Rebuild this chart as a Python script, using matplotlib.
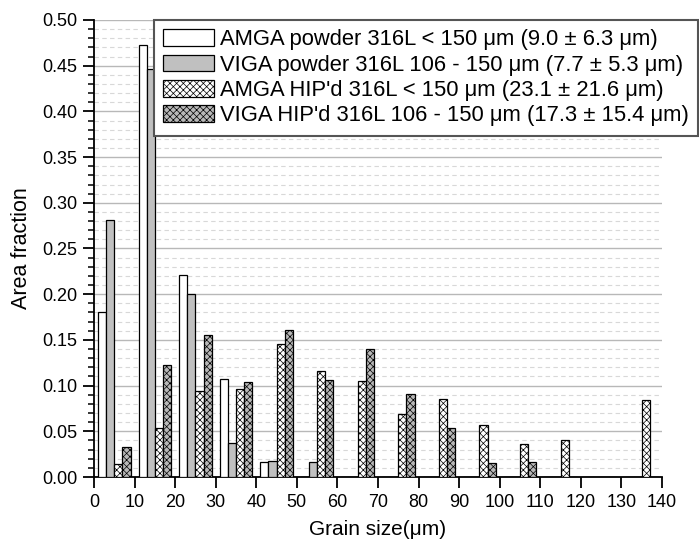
import matplotlib
matplotlib.use("Agg")
import matplotlib.pyplot as plt
import numpy as np
from matplotlib.ticker import MultipleLocator

plt.rcParams['font.family'] = ['Liberation Sans', 'DejaVu Sans']
plt.rcParams['hatch.linewidth'] = 0.5

bins = [0, 10, 20, 30, 40, 50, 60, 70, 80, 90, 100, 110, 120, 130]
amga_powder = [0.180, 0.473, 0.221, 0.107, 0.016, 0, 0, 0, 0, 0, 0, 0, 0, 0]
viga_powder = [0.281, 0.446, 0.200, 0.037, 0.017, 0.016, 0, 0, 0, 0, 0, 0, 0, 0]
amga_hip = [0.014, 0.054, 0.094, 0.096, 0.145, 0.116, 0.105, 0.069, 0.085, 0.057, 0.036, 0.040, 0, 0.084]
viga_hip = [0.033, 0.122, 0.155, 0.104, 0.161, 0.106, 0.140, 0.091, 0.054, 0.015, 0.016, 0, 0, 0]

labels = [
    "AMGA powder 316L < 150 μm (9.0 ± 6.3 μm)",
    "VIGA powder 316L 106 - 150 μm (7.7 ± 5.3 μm)",
    "AMGA HIP'd 316L < 150 μm (23.1 ± 21.6 μm)",
    "VIGA HIP'd 316L 106 - 150 μm (17.3 ± 15.4 μm)",
]
xticks = list(range(0, 141, 10))

fig = plt.figure(figsize=(6.99, 5.44), dpi=100)
ax = fig.add_axes([94/699, 1-477/544, (662-94)/699, (477-20)/544])

b = np.array(bins, dtype=float)
w = 2.0
series = [
    (amga_powder, 2, dict(facecolor='white', hatch=None)),
    (viga_powder, 4, dict(facecolor='#c0c0c0', hatch=None)),
    (amga_hip, 6, dict(facecolor='white', hatch='xxxxx')),
    (viga_hip, 8, dict(facecolor='#b8b8b8', hatch='xxxxx')),
]
for (vals, off, st), lab in zip(series, labels):
    ax.bar(b + off, vals, width=w, edgecolor='black', linewidth=0.9,
           label=lab, zorder=3, **st)

ax.set_xlim(0, 140)
ax.set_ylim(0, 0.5)
ax.set_xticks(xticks)
ax.yaxis.set_major_locator(MultipleLocator(0.05))
ax.yaxis.set_minor_locator(MultipleLocator(0.01))
ax.yaxis.set_major_formatter(matplotlib.ticker.FormatStrFormatter('%.2f'))
ax.grid(True, which='major', axis='y', color='#b8b8b8', linewidth=1.0, zorder=0)
ax.grid(True, which='minor', axis='y', color='#d8d8d8', linewidth=0.8,
        linestyle=(0, (4, 3)), zorder=0)
for s in ['top', 'right']:
    ax.spines[s].set_visible(False)
for s in ['left', 'bottom']:
    ax.spines[s].set_linewidth(1.3)
ax.tick_params(axis='both', which='major', direction='out', length=8, width=1.3,
               labelsize=13, pad=4)
ax.tick_params(axis='y', which='minor', direction='out', length=4.5, width=1.1)
ax.set_axisbelow(True)

ax.set_xlabel("Grain size(μm)", fontsize=15, labelpad=7)
ax.set_ylabel("Area fraction", fontsize=15.5, labelpad=7)

leg = ax.legend(loc='upper right', bbox_to_anchor=(698/699, 1-20/544),
                bbox_transform=fig.transFigure, borderaxespad=0,
                fontsize=15.8, fancybox=False, framealpha=1,
                handlelength=2.35, handleheight=0.8, handletextpad=0.25,
                labelspacing=0.2, borderpad=0.42)
leg.get_frame().set_edgecolor('#555555')
leg.get_frame().set_linewidth(1.5)

fig.savefig("out.png", dpi=100)
